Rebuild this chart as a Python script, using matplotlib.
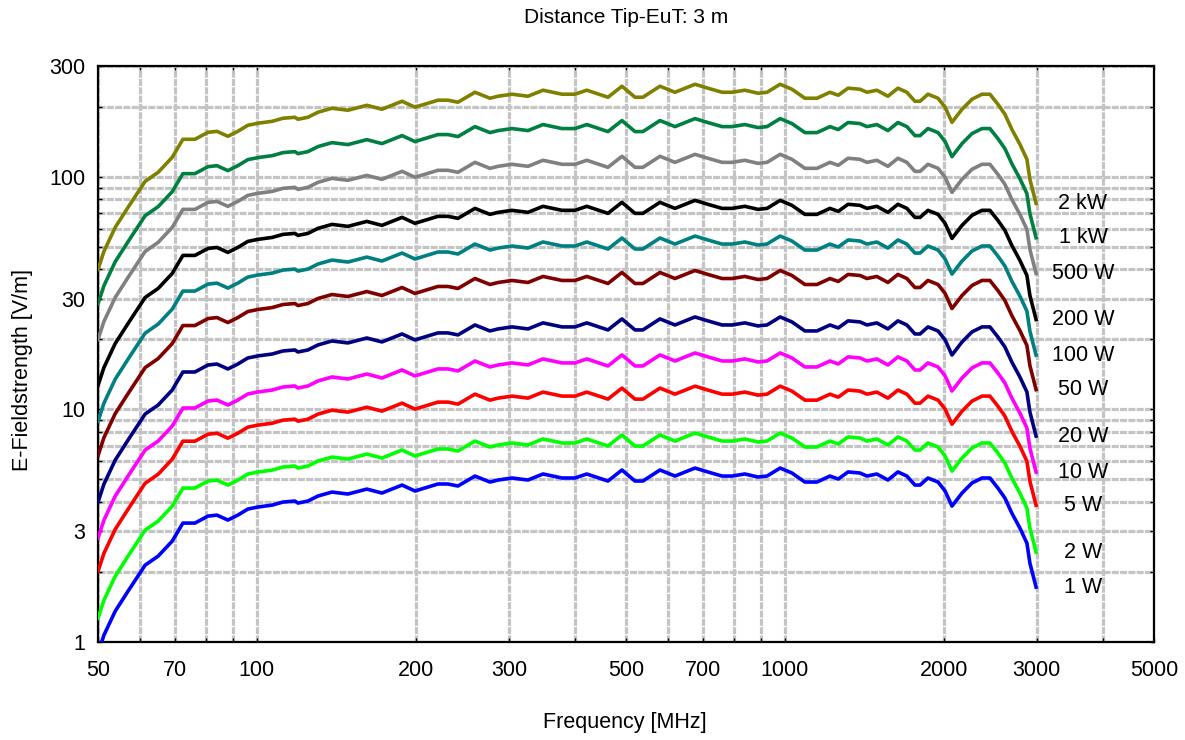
import numpy as np
import matplotlib
matplotlib.use("Agg")
import matplotlib.pyplot as plt
from matplotlib.ticker import FixedLocator, NullFormatter, FixedFormatter
import matplotlib.transforms as mtransforms

plt.rcParams['font.family'] = ['Liberation Sans', 'DejaVu Sans']

# frequency points (MHz) and the field (V/m)
freq_mhz = [50, 51.3, 53.9, 57.0, 61.4, 65.0, 69.1, 72.4, 76.3, 80.8, 84.0, 88.1,
            92.0, 96.1, 100.4, 106.9, 112, 118, 119.6, 124.9, 130.5, 138.7, 148.7,
            161.5, 172.5, 188.3, 199.2, 220.2, 230, 240.3, 258.8, 276.3, 286.3,
            304.2, 326.1, 348.2, 378.2, 400.3, 421.5, 462.2, 491.3, 520, 538.3,
            579.9, 619.2, 675.6, 714.5, 760.3, 794.1, 839.6, 889.3, 924.9, 979.4,
            1031, 1091, 1150, 1217, 1262, 1317, 1387, 1430, 1493, 1567, 1637, 1702,
            1763, 1803, 1866, 1950, 2011, 2072, 2165, 2261, 2362, 2445, 2531, 2610,
            2690, 2787, 2873, 2911, 2990]
e_2kw = [40.0, 47.8, 60.7, 74.0, 95.7, 104.7, 121.4, 145.2, 145.2, 155.6, 157.1, 149.6,
         157.1, 166.8, 170.2, 173.5, 178.8, 180.6, 177.0, 180.6, 189.8, 197.4, 193.6,
         203.3, 195.5, 211.6, 199.5, 213.8, 213.8, 209.6, 231.3, 218.0, 222.4,
         226.9, 222.4, 236.1, 226.9, 226.9, 236.1, 220.2, 245.6, 220.2, 220.2,
         245.6, 231.3, 250.4, 240.9, 231.3, 231.3, 236.1, 229.1, 231.3, 250.4,
         238.4, 218.0, 218.0, 231.3, 224.6, 240.9, 238.4, 231.3, 236.1, 222.4, 240.9, 231.3,
         211.6, 211.6, 226.9, 218.0, 199.5, 171.8, 195.5, 215.9, 226.9, 226.9, 205.5, 186.1,
         160.3, 138.1, 119.1, 97.6, 77.0]

# power steps and the level of each trace at the 676 MHz peak (V/m)
powers = ['2 kW', '1 kW', '500 W', '200 W', '100 W', '50 W', '20 W', '10 W', '5 W', '2 W', '1 W']
peak_level = [250.4, 178.2, 125.1, 79.3, 55.7, 39.6, 25.0, 17.5, 12.6, 7.92, 5.60]
colors = ['#808000', '#008040', '#808080', '#000000', '#008080', '#800000',
          '#000080', '#ff00ff', '#ff0000', '#00ff00', '#0000ff']

x_major = [50, 70, 100, 200, 300, 500, 700, 1000, 2000, 3000, 5000]
x_minor = [60, 80, 90, 400, 600, 800, 900, 4000]
y_major = [1, 3, 10, 30, 100, 300]
y_minor = [2, 4, 5, 6, 7, 8, 9, 20, 40, 50, 60, 70, 80, 90, 200]

fs = 15.5

fig = plt.figure(figsize=(11.85, 7.4), dpi=100)
ax = fig.add_axes([0.0827, 0.1324, 0.8911, 0.7784])

f = np.array(freq_mhz)
ref = np.array(e_2kw)
ipk = freq_mhz.index(675.6)

lbl_tr = mtransforms.blended_transform_factory(ax.transAxes, ax.transData)
for name, lvl, c in zip(powers, peak_level, colors):
    e = ref / ref[ipk] * lvl
    ax.plot(f, e, color=c, lw=2.6, solid_joinstyle='round', zorder=3)
    ax.text(0.9328, e[-1], name, transform=lbl_tr, ha='center', va='center',
            fontsize=fs, clip_on=False)

ax.set_xscale('log')
ax.set_yscale('log')
ax.set_xlim(50, 5000)
ax.set_ylim(1, 300)

ax.xaxis.set_major_locator(FixedLocator(x_major))
ax.xaxis.set_major_formatter(FixedFormatter([str(v) for v in x_major]))
ax.xaxis.set_minor_locator(FixedLocator(x_minor))
ax.xaxis.set_minor_formatter(NullFormatter())
ax.yaxis.set_major_locator(FixedLocator(y_major))
ax.yaxis.set_major_formatter(FixedFormatter([str(v) for v in y_major]))
ax.yaxis.set_minor_locator(FixedLocator(y_minor))
ax.yaxis.set_minor_formatter(NullFormatter())

ax.grid(True, which='both', color='#c4c4c4', lw=2.3, ls=(0, (2.2, 0.4)), zorder=1)
ax.set_axisbelow(True)

ax.tick_params(which='both', direction='in', length=3, width=1,
               top=True, right=True, labelsize=fs)
ax.tick_params(axis='x', pad=13)
ax.tick_params(axis='y', pad=9)
for s in ax.spines.values():
    s.set_linewidth(1.6)

fig.text(0.528, 0.9757, 'Distance Tip-EuT: 3 m', ha='center', va='center', fontsize=15)
fig.text(0.527, 0.0243, 'Frequency [MHz]', ha='center', va='center', fontsize=fs)
fig.text(0.0186, 0.50, 'E-Fieldstrength [V/m]', ha='center', va='center',
         rotation=90, fontsize=fs)

fig.savefig('out.png', dpi=100)
